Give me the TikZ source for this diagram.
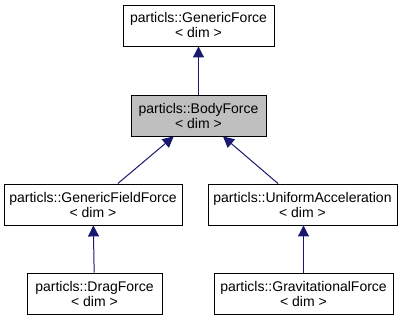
\documentclass[tikz,border=0pt]{standalone}
\usepackage{fontspec}
\setmainfont{Liberation Sans}
\usepackage{tikz}
\usetikzlibrary{arrows.meta}

\definecolor{edgeblue}{RGB}{25,25,112}
\definecolor{nodegray}{RGB}{191,191,191}

\tikzset{
  classbox/.style={draw=black,line width=0.9pt,fill=white,align=center,
    minimum height=41pt,inner sep=0pt,font=\fontsize{14}{15}\selectfont},
  inherit/.style={draw=edgeblue,line width=1pt,
    {Triangle[length=11pt,width=11pt]}-}
}

\begin{document}
\begin{tikzpicture}[x=1pt,y=-1pt]
\useasboundingbox (0,0) rectangle (405,320);

% Top of the hierarchy
\node[classbox,minimum width=151pt] (gf) at (198.5,25.5) {particls::GenericForce\\< dim >};
\node[classbox,minimum width=135pt,fill=nodegray] (bf) at (198.5,115.5) {particls::BodyForce\\< dim >};

% Derived force types
\node[classbox,minimum width=178pt] (gff) at (93,204.5) {particls::GenericFieldForce\\< dim >};
\node[classbox,minimum width=189pt] (ua) at (302.5,204.5) {particls::UniformAcceleration\\< dim >};
\node[classbox,minimum width=135pt] (df) at (94.5,293.5) {particls::DragForce\\< dim >};
\node[classbox,minimum width=179pt] (grf) at (303.5,293.5) {particls::GravitationalForce\\< dim >};

% Inheritance arrows
\draw[inherit] (gf) -- (bf);
\draw[inherit] (bf) -- (gff);
\draw[inherit] (bf) -- (ua);
\draw[inherit] (gff) -- (df);
\draw[inherit] (ua.south -| grf.north) -- (grf);
\end{tikzpicture}
\end{document}
